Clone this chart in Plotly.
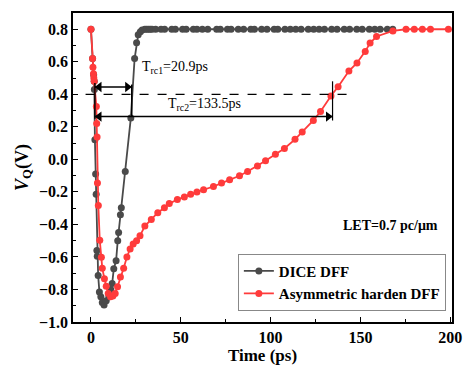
import plotly.graph_objects as go

# DICE DFF
dice_t = [0, 0.9, 1.5, 1.8, 1.9, 2.2, 2.6, 2.9, 3.3, 3.5, 4.0, 4.7, 5.5, 6.3, 7.3, 8.5, 10.0, 11.0, 11.8,
          12.7, 14.0, 14.9, 15.4, 16.4, 16.9, 19.1, 22.2, 24.3, 25.4, 26.3, 27.5, 28.5,
          30, 31, 32, 33, 34, 36, 39, 41, 45, 47, 51, 53, 57, 59, 62, 65, 70, 72, 76, 78, 82, 85, 89, 91,
          95, 98, 102, 104, 108, 111, 114, 117, 121, 124, 127, 130, 134, 137, 141, 144, 148, 151, 155,
          158, 161, 165, 168]
dice_v = [0.8, 0.62, 0.52, 0.48, 0.43, 0.12, -0.09, -0.215, -0.56, -0.596, -0.714, -0.815, -0.845, -0.88,
          -0.895, -0.87, -0.845, -0.80, -0.764, -0.673, -0.623, -0.5, -0.45, -0.34, -0.298, -0.075, 0.255,
          0.62, 0.717, 0.766, 0.785, 0.795,
          0.8, 0.8, 0.8, 0.8, 0.8, 0.8, 0.8, 0.8, 0.8, 0.8, 0.8, 0.8, 0.8, 0.8, 0.8, 0.8, 0.8, 0.8, 0.8,
          0.8, 0.8, 0.8, 0.8, 0.8, 0.8, 0.8, 0.8, 0.8, 0.8, 0.8, 0.8, 0.8, 0.8, 0.8, 0.8, 0.8, 0.8, 0.8,
          0.8, 0.8, 0.8, 0.8, 0.8, 0.8, 0.8, 0.8, 0.8]

# Asymmetric harden DFF
asym_t = [0, 0.9, 1.1, 1.4, 1.6, 1.8, 3.0, 3.2, 3.4, 3.6, 4.1, 4.9, 5.8, 6.3, 7.5, 8.5, 9.6, 10.9, 12.2,
          13.5, 14.8, 16.4, 18.2, 20, 21.8, 23.5, 25.4, 27.3, 30, 33.6, 37.2, 40.9, 43.6, 48.1, 52, 55.5,
          59, 62.7, 68.2, 72.7, 77.2, 82.7, 87.2, 92.7, 97.2, 102.7, 107.7, 113.6, 117.6, 123.8, 127.8,
          133.6, 137.6, 143.6, 148.1, 152.7, 155.4, 159, 168.1, 175.4, 180, 184.5, 189, 199]
asym_v = [0.8, 0.62, 0.567, 0.527, 0.5, 0.48, 0.325, 0.22, 0.137, -0.146, -0.284, -0.497, -0.602, -0.669,
          -0.734, -0.78, -0.825, -0.845, -0.84, -0.825, -0.784, -0.723, -0.669, -0.6, -0.551, -0.52, -0.5,
          -0.47, -0.41, -0.369, -0.328, -0.298, -0.272, -0.247, -0.232, -0.215, -0.2, -0.187, -0.167,
          -0.146, -0.126, -0.101, -0.075, -0.041, -0.008, 0.032, 0.067, 0.123, 0.168, 0.239, 0.294, 0.39,
          0.447, 0.543, 0.593, 0.664, 0.715, 0.756, 0.79, 0.8, 0.8, 0.8, 0.8, 0.8]

x_ticks = [0, 50, 100, 150, 200]
y_ticks = [-1.0, -0.8, -0.6, -0.4, -0.2, 0.0, 0.2, 0.4, 0.6, 0.8]

# recovery-time markers (start time, end time, arrow level)
rc1 = dict(t0=2.2, t1=22.7, v=0.445)
rc2 = dict(t0=2.2, t1=134.5, v=0.263)

FONT = "Liberation Serif"
GRAY = "#4a4a4a"
RED = "#ff3b3b"

fig = go.Figure()
fig.add_trace(go.Scatter(x=dice_t, y=dice_v, mode="lines+markers", name="<b>DICE DFF</b>",
                         line=dict(color=GRAY, width=1.8), marker=dict(color=GRAY, size=7)))
fig.add_trace(go.Scatter(x=asym_t, y=asym_v, mode="lines+markers", name="<b>Asymmetric harden DFF</b>",
                         line=dict(color=RED, width=1.8), marker=dict(color=RED, size=7)))

# dashed 0.4 V line
fig.add_shape(type="line", x0=-3, x1=144.5, y0=0.4, y1=0.4, line=dict(color="black", width=1.3, dash="dash"))
# vertical markers
fig.add_shape(type="line", x0=2.2, x1=2.2, y0=0.25, y1=0.47, line=dict(color="black", width=1.5))
fig.add_shape(type="line", x0=22.7, x1=22.7, y0=0.263, y1=0.46, line=dict(color="black", width=1.5))
fig.add_shape(type="line", x0=134.5, x1=134.5, y0=0.239, y1=0.48, line=dict(color="black", width=1.2))

# double arrows: line shapes + triangle heads
HEAD_OFF = 2.4  # ps, half a head width
for rc in (rc1, rc2):
    fig.add_shape(type="line", x0=rc["t0"], x1=rc["t1"], y0=rc["v"], y1=rc["v"],
                  line=dict(color="black", width=1.5))
    fig.add_trace(go.Scatter(x=[rc["t0"] + HEAD_OFF], y=[rc["v"]], mode="markers", showlegend=False,
                             hoverinfo="skip",
                             marker=dict(symbol="triangle-left", size=9, color="black")))
    fig.add_trace(go.Scatter(x=[rc["t1"] - HEAD_OFF], y=[rc["v"]], mode="markers", showlegend=False,
                             hoverinfo="skip",
                             marker=dict(symbol="triangle-right", size=9, color="black")))

fig.add_annotation(x=27.3, y=0.563, xref="x", yref="y", xanchor="left", yanchor="middle", showarrow=False,
                   text="T<sub>rc1</sub>=20.9ps", font=dict(family=FONT, size=14, color="black"))
fig.add_annotation(x=41.8, y=0.34, xref="x", yref="y", xanchor="left", yanchor="middle", showarrow=False,
                   text="T<sub>rc2</sub>=133.5ps", font=dict(family=FONT, size=14, color="black"))
fig.add_annotation(x=166.5, y=-0.405, xref="x", yref="y", xanchor="center", yanchor="middle", showarrow=False,
                   text="<b>LET=0.7 pc/μm</b>", font=dict(family=FONT, size=14, color="black"))

fig.update_layout(
    width=473, height=371,
    margin=dict(l=73, r=11, t=11, b=48),
    paper_bgcolor="white", plot_bgcolor="white",
    font=dict(family=FONT, color="black"),
    legend=dict(x=0.435, y=0.221, xanchor="left", yanchor="top", bordercolor="#888888", borderwidth=1,
                bgcolor="white", font=dict(family=FONT, size=15, color="black"),
                tracegroupgap=0, itemwidth=30),
    showlegend=True,
)
fig.update_xaxes(range=[-10, 201], tickvals=x_ticks, ticktext=[f"<b>{v}</b>" for v in x_ticks],
                 showgrid=False, zeroline=False, showline=True, linecolor="black", linewidth=1.5, mirror=True,
                 ticks="inside", ticklen=5, tickwidth=1.3, tickcolor="black",
                 minor=dict(ticks="inside", tickvals=[25, 75, 125, 175], ticklen=3, tickcolor="black", tickwidth=1.3),
                 tickfont=dict(family=FONT, size=16, color="black"),
                 title=dict(text="<b>Time (ps)</b>", font=dict(family=FONT, size=17, color="black"), standoff=2))
fig.update_yaxes(range=[-1.0, 0.9], tickvals=y_ticks, ticktext=[f"<b>{v:.1f}</b>".replace("-", "−") for v in y_ticks],
                 showgrid=False, zeroline=False, showline=True, linecolor="black", linewidth=1.5, mirror=True,
                 ticks="inside", ticklen=5, tickwidth=1.3, tickcolor="black",
                 minor=dict(ticks="inside", tickvals=[-0.9, -0.7, -0.5, -0.3, -0.1, 0.1, 0.3, 0.5, 0.7],
                            ticklen=3, tickcolor="black", tickwidth=1.3),
                 tickfont=dict(family=FONT, size=16, color="black"),
                 title=dict(text="<b><i>V</i><sub>Q</sub>(V)</b>", font=dict(family=FONT, size=18, color="black"),
                            standoff=6))

fig.write_html("out.html")
